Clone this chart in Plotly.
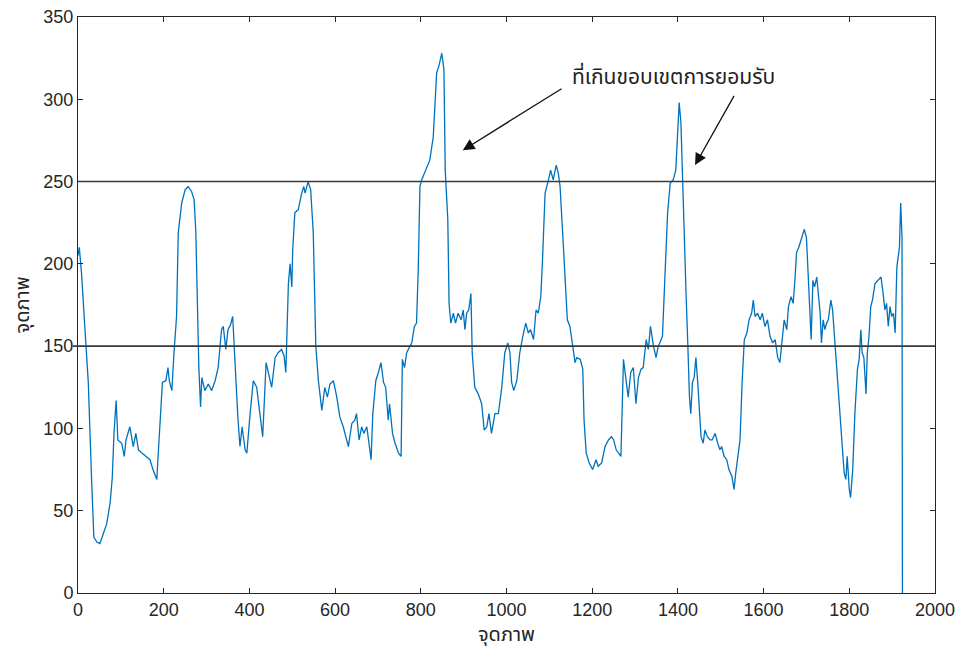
import plotly.graph_objects as go

# Signal (x = pixel index, y = value)
x_vals = [0,3,8,16,24,32,37,44,51,59,67,75,80,84,89,93,102,108,112,121,129,135,141,149,160,168,175,184,186,191,197,205,210,213,219,224,230,234,242,250,257,265,271,275,279,282,286,289,296,304,312,320,327,335,339,345,350,356,361,364,369,373,378,383,390,394,401,409,417,423,431,439,444,452,460,467,475,481,485,491,495,499,501,506,514,522,527,530,537,543,549,555,561,569,576,582,588,596,604,611,619,625,631,639,646,650,656,662,667,674,679,684,688,695,701,707,713,718,724,727,734,740,748,754,757,762,767,771,779,785,790,794,798,802,808,814,821,829,833,837,842,849,854,857,863,866,870,876,881,887,894,899,903,907,912,917,920,926,934,942,948,954,959,965,973,981,989,996,1003,1008,1012,1017,1024,1031,1038,1045,1051,1056,1063,1069,1074,1080,1084,1090,1098,1103,1109,1116,1121,1125,1131,1137,1142,1148,1152,1156,1160,1164,1172,1178,1181,1186,1193,1201,1209,1214,1222,1230,1238,1245,1250,1256,1261,1267,1273,1279,1284,1290,1296,1302,1308,1314,1319,1326,1331,1336,1343,1349,1354,1358,1364,1370,1376,1382,1389,1395,1400,1403,1407,1411,1415,1419,1423,1427,1430,1434,1438,1442,1446,1450,1454,1459,1463,1469,1475,1480,1487,1493,1498,1502,1508,1514,1519,1526,1531,1535,1540,1545,1550,1555,1561,1566,1572,1576,1580,1586,1592,1597,1603,1609,1615,1621,1627,1633,1638,1644,1648,1654,1658,1664,1669,1673,1677,1682,1689,1695,1700,1704,1708,1711,1715,1719,1724,1728,1732,1735,1739,1743,1747,1751,1757,1761,1767,1772,1777,1782,1788,1792,1795,1800,1803,1808,1813,1819,1823,1827,1830,1834,1839,1842,1846,1850,1854,1860,1868,1874,1878,1883,1887,1891,1895,1899,1903,1907,1911,1917,1920,1923,1924]
y_vals = [205,210,195,164,128,67,34,31,30,36,42,55,70,97,117,93,91,83,93,101,89,97,87,85,83,81,75,69,79,103,128,129,137,129,123,146,168,219,237,245,247,244,239,219,158,137,113,131,123,127,123,129,137,160,162,148,160,163,168,152,128,107,89,101,87,85,107,129,125,111,95,140,134,125,143,146,148,144,134,188,200,186,208,231,233,243,247,243,250,245,219,150,129,111,125,119,127,129,119,107,101,95,89,103,105,109,93,101,97,101,90,81,109,129,134,140,128,125,105,115,97,91,85,83,142,137,146,148,152,162,164,196,247,251,255,259,263,277,298,316,320,328,318,257,227,176,164,170,164,170,166,172,160,170,172,182,146,125,121,115,99,101,109,97,109,109,125,146,152,146,128,123,129,146,156,164,158,160,154,172,170,180,202,243,251,257,251,260,255,247,219,192,166,162,154,148,140,143,142,136,105,85,79,75,81,77,79,89,93,95,93,87,85,83,142,131,119,134,137,115,131,136,137,154,148,162,150,143,150,152,156,194,231,249,251,257,281,298,286,251,204,182,152,119,109,128,131,143,129,109,95,91,99,95,93,93,97,91,87,89,83,81,75,71,63,73,83,93,129,154,158,166,170,178,168,170,166,170,162,166,156,152,154,143,140,154,166,160,174,180,176,190,207,210,216,221,216,196,170,154,190,186,192,180,170,152,166,160,164,166,178,172,150,134,113,93,73,69,83,63,58,75,109,136,142,160,146,143,121,146,156,174,178,188,190,192,184,172,176,162,174,168,170,158,198,210,237,216,0]

# Acceptance limits
limits = [250, 150]

x_ticks = [0, 200, 400, 600, 800, 1000, 1200, 1400, 1600, 1800, 2000]
y_ticks = [0, 50, 100, 150, 200, 250, 300, 350]

label_text = "ที่เกินขอบเขตการยอมรับ"
axis_label = "จุดภาพ"

thai_font = "Noto Sans Thai, Tahoma, Loma, Garuda, Liberation Sans, sans-serif"
tick_font = dict(family="Liberation Sans, Arial, sans-serif", size=18, color="#262626")

fig = go.Figure()
fig.add_trace(go.Scatter(x=x_vals, y=y_vals, mode="lines",
                         line=dict(color="#0072BD", width=1.3), showlegend=False))

fig.add_shape(type="line", xref="paper", yref="y", x0=0, x1=1, y0=limits[0], y1=limits[0],
              line=dict(color="#3a3a3a", width=1.6))
fig.add_shape(type="line", xref="paper", yref="y", x0=-0.006, x1=1, y0=limits[1], y1=limits[1],
              line=dict(color="#3a3a3a", width=1.6))

fig.add_annotation(x=1389, y=313.5, xref="x", yref="y", text=label_text, showarrow=False,
                   font=dict(family=thai_font, size=21, color="#222222"))
fig.add_annotation(x=898, y=269, ax=1132, ay=307, xref="x", yref="y", axref="x", ayref="y",
                   text="", showarrow=True, arrowhead=2, arrowsize=1.8, arrowwidth=1.3,
                   arrowcolor="#111111")
fig.add_annotation(x=1440, y=260, ax=1533, ay=303, xref="x", yref="y", axref="x", ayref="y",
                   text="", showarrow=True, arrowhead=2, arrowsize=1.8, arrowwidth=1.3,
                   arrowcolor="#111111")

axis_common = dict(showline=True, linecolor="#262626", linewidth=1, mirror="ticks",
                   ticks="inside", ticklen=5, tickcolor="#262626", showgrid=False,
                   zeroline=False, tickfont=tick_font, automargin=False,
                   ticklabeloverflow="allow")

fig.update_xaxes(range=[0, 2000], tickvals=x_ticks, ticktext=[str(v) for v in x_ticks],
                 title=dict(text=axis_label, font=dict(family=thai_font, size=20, color="#262626"), standoff=8),
                 **axis_common)
fig.update_yaxes(range=[0, 350], tickvals=y_ticks, ticktext=[str(v) for v in y_ticks],
                 title=dict(text=axis_label, font=dict(family=thai_font, size=20, color="#262626"), standoff=14),
                 **axis_common)

fig.update_layout(width=965, height=663, margin=dict(l=70, r=38, t=9, b=78),
                  paper_bgcolor="white", plot_bgcolor="white")

fig.write_html("out.html")
